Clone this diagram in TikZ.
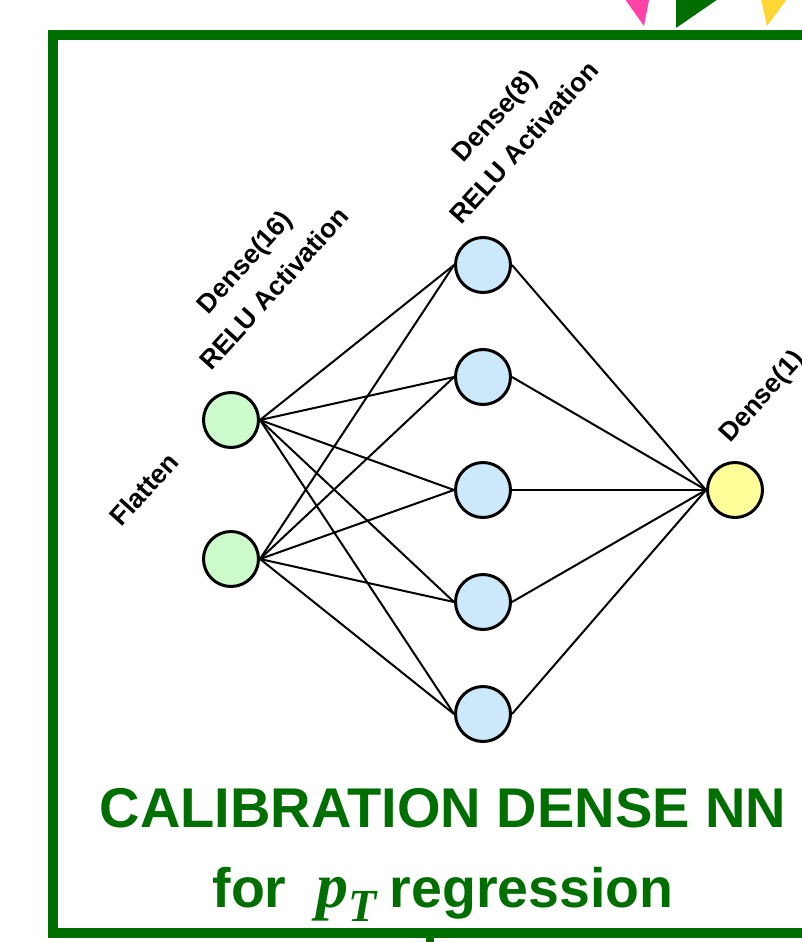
\documentclass[tikz,border=0pt]{standalone}
\usepackage{fontspec}
\setmainfont{Liberation Sans}
\newfontfamily\ptfont{Liberation Serif}
\usetikzlibrary{positioning}

\definecolor{boxgreen}{RGB}{0,110,0}
\definecolor{inputfill}{RGB}{204,252,204}
\definecolor{hiddenfill}{RGB}{204,233,251}
\definecolor{outputfill}{RGB}{255,255,153}
\definecolor{flagpink}{RGB}{255,68,168}
\definecolor{flagyellow}{RGB}{255,214,51}

\tikzset{
  neuron/.style={circle, draw=black, line width=3pt, minimum size=55pt, inner sep=0pt},
  layerlabel/.style={rotate=48, font=\fontsize{26.5}{40}\selectfont\bfseries, align=center},
  synapse/.style={line width=2pt},
}

\begin{document}
\begin{tikzpicture}[x=1pt,y=-1pt]
        \clip (0,0) rectangle (802,942);
        \useasboundingbox (0,0) rectangle (802,942);

        % Flags at the top edge
        \fill[flagpink] (622,-5) -- (650,-5) -- (644,26) -- cycle;
        \fill[boxgreen] (676,-5) -- (724,-5) -- (676,28) -- cycle;
        \fill[flagyellow] (760,-5) -- (790,-5) -- (767,26) -- cycle;

        % Frame
        \draw[boxgreen, line width=10pt] (53,35) rectangle (850,933);
        \fill[boxgreen] (426,933) rectangle (434,945);

        % Define the neurons
        \node[neuron, fill=inputfill] (in1) at (231,420) {};
        \node[neuron, fill=inputfill] (in2) at (231,559) {};
        \foreach \i/\y in {1/265, 2/377, 3/490, 4/602, 5/714}
            \node[neuron, fill=hiddenfill] (h\i) at (483,\y) {};
        \node[neuron, fill=outputfill] (out) at (735,490) {};

        % Draw the lines
        \foreach \i in {1,...,5} {
            \draw[synapse] (in1.east) -- (h\i.west);
            \draw[synapse] (in2.east) -- (h\i.west);
            \draw[synapse] (h\i.east) -- (out.west);
        }

        % Layer labels
        \node[layerlabel] (flat) at (144,489) {Flatten};
        \node[layerlabel] (dense16) at (259,275) {Dense(16)\\RELU Activation};
        \node[layerlabel] (dense8) at (509,129) {Dense(8)\\RELU Activation};
        \node[layerlabel, anchor=base west] (dense1) at (728,446) {Dense(1)};

        % Title
        \node[boxgreen, font=\fontsize{56}{60}\selectfont\bfseries, anchor=base] (title) at (443,827) {CALIBRATION DENSE NN};
        \node[boxgreen, font=\fontsize{55.5}{60}\selectfont\bfseries, anchor=base] (subtitle) at (443,907)
            {for\hspace{30pt}{\fontsize{64}{64}\selectfont\ptfont\itshape p}\raisebox{-14pt}{\fontsize{46}{46}\selectfont\ptfont\itshape T}\hspace{13pt}regression};
      \end{tikzpicture}
\end{document}
